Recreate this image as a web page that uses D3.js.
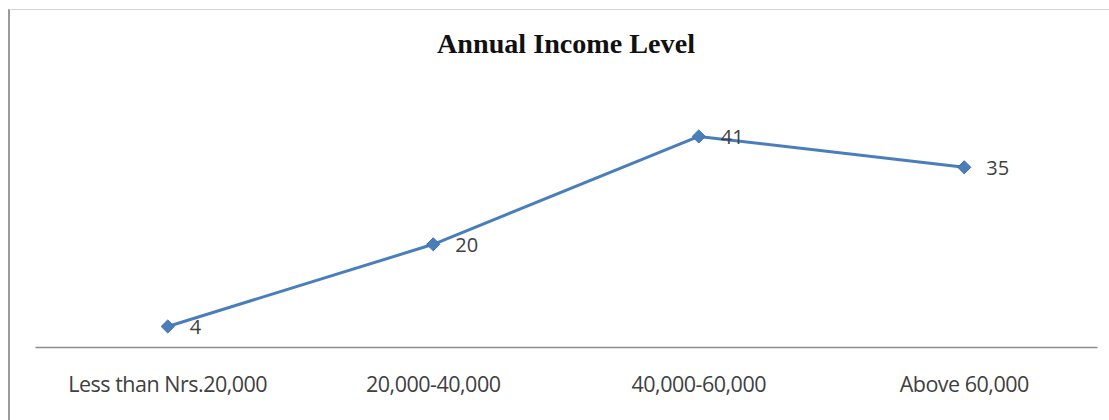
<!DOCTYPE html>
<html>
<head>
<meta charset="utf-8">
<script src="https://cdn.jsdelivr.net/npm/d3@7"></script>
<style>
  html, body { margin: 0; padding: 0; background: #ffffff; }
  svg { display: block; }
</style>
</head>
<body>
<svg id="chart" width="1109" height="420"></svg>
<script>
// Income brackets and the number of respondents in each
const categories = ["Less than Nrs.20,000", "20,000-40,000", "40,000-60,000", "Above 60,000"];
const respondents = [4, 20, 41, 35];
const chartTitle = "Annual Income Level";

const svg = d3.select("#chart");
const W = 1109, H = 420;

// chart frame (left and top edges visible)
svg.append("line").attr("x1", 9).attr("x2", 9).attr("y1", 9).attr("y2", H)
  .attr("stroke", "#9a9a9a").attr("stroke-width", 2);
svg.append("line").attr("x1", 9).attr("x2", W).attr("y1", 9.5).attr("y2", 9.5)
  .attr("stroke", "#d4d4d4").attr("stroke-width", 1);

// title
svg.append("text")
  .attr("x", 566).attr("y", 53)
  .attr("text-anchor", "middle")
  .attr("font-family", "'Liberation Serif', 'Times New Roman', serif")
  .attr("font-weight", "bold")
  .attr("font-size", 28)
  .attr("textLength", 258)
  .attr("lengthAdjust", "spacingAndGlyphs")
  .attr("fill", "#111")
  .text(chartTitle);

const x = d3.scaleBand().domain(categories).range([35, 1097]).padding(0);
const y = d3.scaleLinear().domain([0, 45]).range([347, 347 - 45 * 5.135]);
const cx = d => x(d) + x.bandwidth() / 2;

// category axis
const xAxis = d3.axisBottom(x).tickSize(0).tickPadding(30);
const gx = svg.append("g").attr("transform", `translate(0,${y(0)})`).call(xAxis);
gx.select(".domain").attr("stroke", "#8c8c8c").attr("stroke-width", 1.5);
gx.selectAll("text")
  .attr("font-family", "'Open Sans', 'DejaVu Sans', sans-serif")
  .attr("font-size", 21.5)
  .attr("letter-spacing", -0.5)
  .attr("fill", "#404040");

const pts = categories.map((c, i) => ({ c, v: respondents[i] }));

// series line
svg.append("path")
  .datum(pts)
  .attr("fill", "none")
  .attr("stroke", "#4a7ebb")
  .attr("stroke-width", 3)
  .attr("stroke-linejoin", "round")
  .attr("d", d3.line().x(d => cx(d.c)).y(d => y(d.v)));

// diamond markers
svg.selectAll(".marker")
  .data(pts)
  .join("path")
  .attr("class", "marker")
  .attr("transform", d => `translate(${cx(d.c)},${y(d.v)})`)
  .attr("d", d3.symbol(d3.symbolDiamond2, 110)())
  .attr("fill", "#4a7ebb")
  .attr("stroke", "#3d6ea8")
  .attr("stroke-width", 1);

// value labels
svg.selectAll(".vlabel")
  .data(pts)
  .join("text")
  .attr("class", "vlabel")
  .attr("x", d => cx(d.c) + 22)
  .attr("y", d => y(d.v) + 8)
  .attr("font-family", "'Open Sans', 'DejaVu Sans', sans-serif")
  .attr("font-size", 20)
  .attr("fill", "#404040")
  .text(d => d.v);
</script>
</body>
</html>
